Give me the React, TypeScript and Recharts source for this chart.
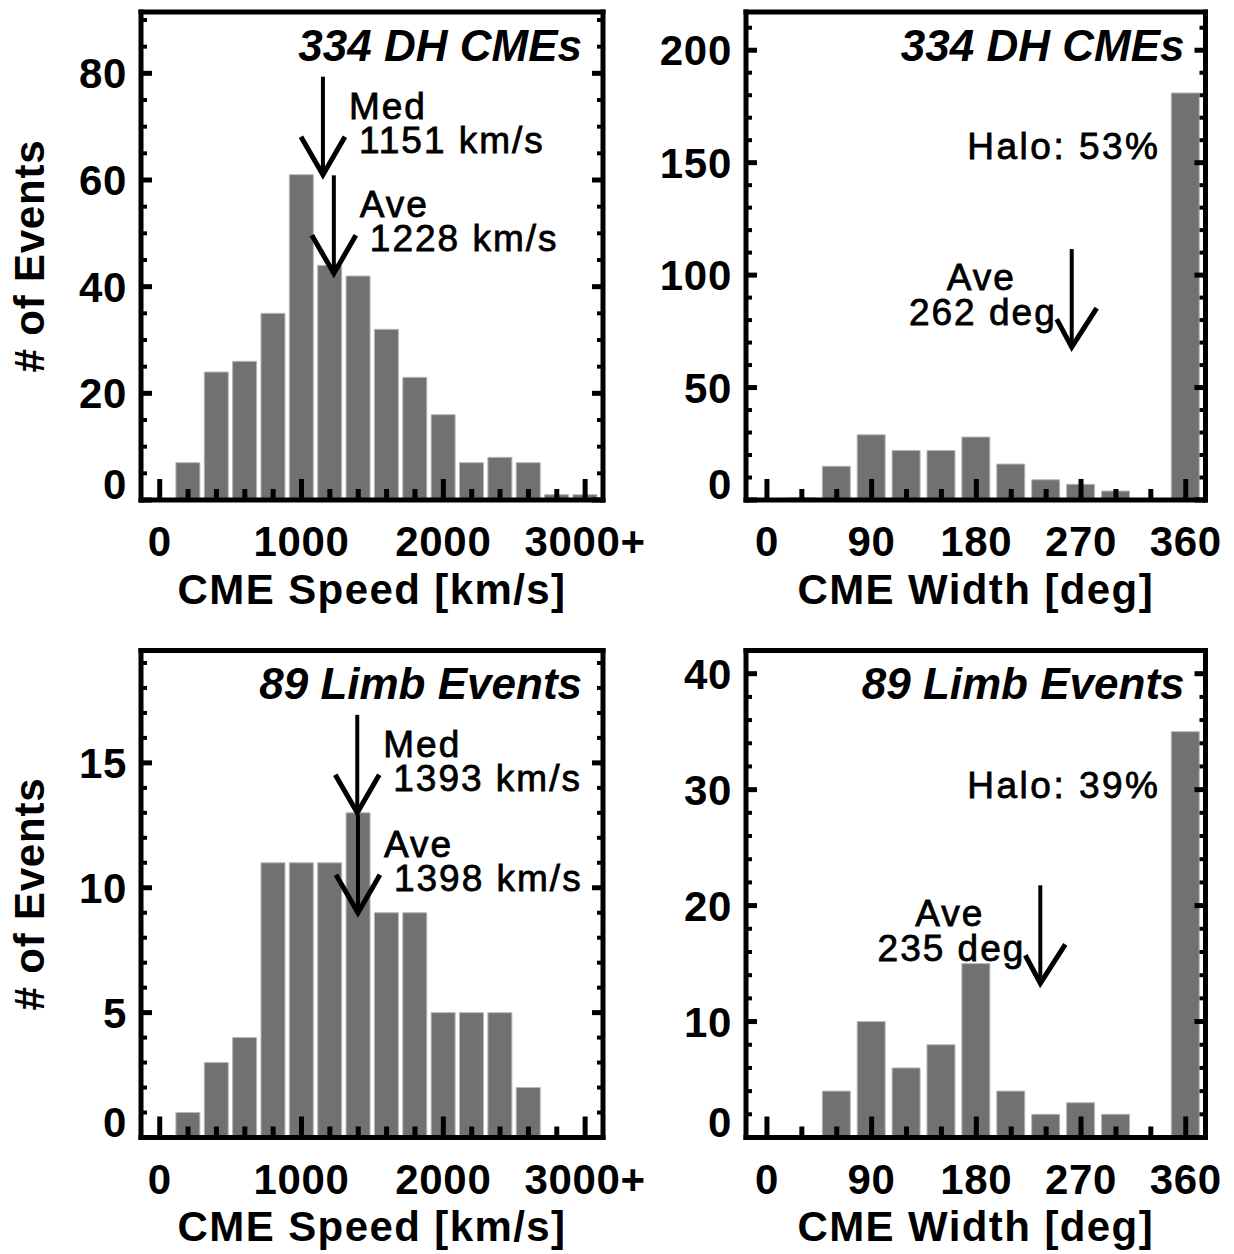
import React from 'react';
import { ComposedChart, Bar, XAxis, YAxis, ReferenceDot } from 'recharts';

// ---------- data ----------
const speedBins = [200, 400, 600, 800, 1000, 1200, 1400, 1600, 1800, 2000, 2200, 2400, 2600, 2800, 3000];
const dhSpeedCounts = [7, 24, 26, 35, 61, 44, 42, 32, 23, 16, 7, 8, 7, 1, 1];
const limbSpeedCounts = [1, 3, 4, 11, 11, 11, 13, 9, 9, 5, 5, 5, 2, 0, 0];

const widthBins = [30, 60, 90, 120, 150, 180, 210, 240, 270, 300, 330, 360];
const dhWidthCounts = [1, 15, 29, 22, 22, 28, 16, 9, 7, 4, 0, 181];
const limbWidthCounts = [0, 4, 10, 6, 8, 15, 4, 2, 3, 2, 0, 35];

const speedTicks = [0, 200, 400, 600, 800, 1000, 1200, 1400, 1600, 1800, 2000, 2200, 2400, 2600, 2800, 3000];
const speedMajorTicks = [0, 1000, 2000, 3000];
const speedTickLabels = ['0', '1000', '2000', '3000+'];
const widthTicks = [0, 30, 60, 90, 120, 150, 180, 210, 240, 270, 300, 330, 360];
const widthMajorTicks = [0, 90, 180, 270, 360];
const widthTickLabels = ['0', '90', '180', '270', '360'];

const dhCountTicks = [0, 5, 10, 15, 20, 25, 30, 35, 40, 45, 50, 55, 60, 65, 70, 75, 80, 85, 90];
const dhCountMajor = [0, 20, 40, 60, 80];
const dhWidthCountTicks = [0, 10, 20, 30, 40, 50, 60, 70, 80, 90, 100, 110, 120, 130, 140, 150, 160, 170, 180, 190, 200, 210];
const dhWidthCountMajor = [0, 50, 100, 150, 200];
const limbCountTicks = [0, 1, 2, 3, 4, 5, 6, 7, 8, 9, 10, 11, 12, 13, 14, 15, 16, 17, 18, 19];
const limbCountMajor = [0, 5, 10, 15];
const limbWidthCountTicks = [0, 2, 4, 6, 8, 10, 12, 14, 16, 18, 20, 22, 24, 26, 28, 30, 32, 34, 36, 38, 40, 42];
const limbWidthCountMajor = [0, 10, 20, 30, 40];

const dhTitle = '334 DH CMEs';
const limbTitle = '89 Limb Events';
const dhHalo = 'Halo: 53%';
const limbHalo = 'Halo: 39%';

const dhSpeedArrows = [
  { name: 'Med', text: '1151 km/s', x: 1151, tip: 61 },
  { name: 'Ave', text: '1228 km/s', x: 1228, tip: 42.5 },
];
const limbSpeedArrows = [
  { name: 'Med', text: '1393 km/s', x: 1393, tip: 13 },
  { name: 'Ave', text: '1398 km/s', x: 1398, tip: 9 },
];
const dhWidthArrows = [{ name: 'Ave', text: '262 deg', x: 262, tip: 68 }];
const limbWidthArrows = [{ name: 'Ave', text: '235 deg', x: 235, tip: 13.3 }];

const speedTitle = 'CME Speed [km/s]';
const widthTitle = 'CME Width [deg]';
const yTitle = '# of Events';

// ---------- styles ----------
const FONT = '"Liberation Sans", Arial, Helvetica, sans-serif';
const BAR_FILL = '#717171';
const BAR_EDGE = '#b8b8b8';
const LABEL_SIZE = 42;
const frameLine = { stroke: '#000', strokeWidth: 5, strokeLinecap: 'square' as const };

type ArrowSpec = { name: string; text: string; x: number; tip: number };

function makeXTick(majors: number[], labels: string[]) {
  return (props: any) => {
    const { x, y, payload } = props;
    const idx = majors.indexOf(payload.value);
    const major = idx >= 0;
    return (
      <g>
        <line x1={x} x2={x} y1={y} y2={y - (major ? 21 : 11)} stroke="#000" strokeWidth={5} />
        {major && (
          <text x={x} y={y + 56} textAnchor="middle" fontFamily={FONT} fontWeight="bold" fontSize={LABEL_SIZE} letterSpacing={0.7} fill="#000">
            {labels[idx]}
          </text>
        )}
      </g>
    );
  };
}

function makeYTick(majors: number[], side: 'left' | 'right') {
  return (props: any) => {
    const { x, y, payload } = props;
    const major = majors.indexOf(payload.value) >= 0;
    const len = major ? 11 : 6;
    const dir = side === 'left' ? 1 : -1;
    return (
      <g>
        <line x1={x} x2={x + dir * len} y1={y} y2={y} stroke="#000" strokeWidth={major ? 5 : 4} />
        {side === 'left' && major && (
          <text
            x={x - 14}
            y={payload.value === 0 ? y - 1 : y + 15}
            textAnchor="end"
            fontFamily={FONT}
            fontWeight="bold"
            fontSize={LABEL_SIZE}
            letterSpacing={0.7}
            fill="#000"
          >
            {payload.value}
          </text>
        )}
      </g>
    );
  };
}

const annText = { fontFamily: FONT, fontSize: 37, fill: '#000', letterSpacing: 2, stroke: '#000', strokeWidth: 0.8 } as any;

function makeArrow(a: ArrowSpec, textSide: 'right' | 'left') {
  return (props: any) => {
    const { cx, cy } = props;
    const head =
      textSide === 'right'
        ? `${cx - 22},${cy - 38} ${cx},${cy} ${cx + 22},${cy - 38}`
        : `${cx - 15},${cy - 28} ${cx},${cy} ${cx + 25},${cy - 39}`;
    return (
      <g>
        <line x1={cx} x2={cx} y1={cy} y2={cy - 98} stroke="#000" strokeWidth={4} />
        <polyline points={head} fill="none" stroke="#000" strokeWidth={5} strokeLinejoin="miter" />
        {textSide === 'right' ? (
          <>
            <text x={cx + 26} y={cy - 56} textAnchor="start" {...annText}>{a.name}</text>
            <text x={cx + 36} y={cy - 22} textAnchor="start" {...annText}>{a.text}</text>
          </>
        ) : (
          <>
            <text x={cx - 56} y={cy - 57} textAnchor="end" {...annText}>{a.name}</text>
            <text x={cx - 15} y={cy - 22} textAnchor="end" {...annText}>{a.text}</text>
          </>
        )}
      </g>
    );
  };
}

function makeCorner(title: string, halo?: string) {
  return (props: any) => {
    const { cx, cy } = props;
    return (
      <g>
        <text x={cx - 21} y={cy + 48.5} textAnchor="end" fontFamily={FONT} fontWeight="bold" fontStyle="italic" fontSize={44} fill="#000">
          {title}
        </text>
        {halo && (
          <text x={cx - 45} y={cy + 147} textAnchor="end" {...annText} letterSpacing={2.5}>
            {halo}
          </text>
        )}
      </g>
    );
  };
}

type PanelProps = {
  left: number;
  top: number;
  width: number;
  height: number;
  margin: { top: number; right: number; bottom: number; left: number };
  bins: number[];
  counts: number[];
  xDomain: [number, number];
  yDomain: [number, number];
  xTicks: number[];
  xMajor: number[];
  xLabels: string[];
  yTicks: number[];
  yMajor: number[];
  barSize: number;
  arrows: ArrowSpec[];
  textSide: 'right' | 'left';
  title: string;
  halo?: string;
  xTitle: string;
  showYTitle: boolean;
};

function Panel(p: PanelProps) {
  const data = p.bins.map((b, i) => ({ bin: b, count: p.counts[i] }));
  // axes take 1px each; margins shrink accordingly so the plot frame keeps its place
  const m = { top: p.margin.top - 1, right: p.margin.right - 1, bottom: p.margin.bottom - 1, left: p.margin.left - 1 };
  return (
    <div style={{ position: 'absolute', left: p.left, top: p.top }}>
      <ComposedChart width={p.width} height={p.height} data={data} margin={m}>
        <Bar
          dataKey="count"
          xAxisId="x"
          yAxisId="y"
          fill={BAR_FILL}
          stroke={BAR_EDGE}
          strokeWidth={1}
          barSize={p.barSize}
          isAnimationActive={false}
        />
        <XAxis
          xAxisId="x"
          dataKey="bin"
          type="number"
          domain={p.xDomain}
          allowDataOverflow
          ticks={p.xTicks}
          interval={0}
          height={1}
          tickSize={0}
          tickMargin={0}
          tickLine={false}
          axisLine={frameLine}
          tick={makeXTick(p.xMajor, p.xLabels)}
          label={(lp: any) => {
            const vb = lp.viewBox || {};
            return (
              <text
                x={vb.x + vb.width / 2}
                y={vb.y + 103.5}
                textAnchor="middle"
                fontFamily={FONT}
                fontWeight="bold"
                fontSize={LABEL_SIZE}
                letterSpacing={1.4}
                fill="#000"
              >
                {p.xTitle}
              </text>
            );
          }}
        />
        <XAxis
          xAxisId="top"
          orientation="top"
          type="number"
          domain={p.xDomain}
          allowDataOverflow
          ticks={p.xTicks}
          height={1}
          tick={false}
          tickLine={false}
          axisLine={frameLine}
        />
        <YAxis
          yAxisId="y"
          type="number"
          domain={p.yDomain}
          allowDataOverflow
          ticks={p.yTicks}
          interval={0}
          width={1}
          tickSize={0}
          tickMargin={0}
          tickLine={false}
          axisLine={frameLine}
          tick={makeYTick(p.yMajor, 'left')}
          label={
            p.showYTitle
              ? (lp: any) => {
                  const vb = lp.viewBox || {};
                  const tx = vb.x + vb.width - 97;
                  const ty = vb.y + vb.height / 2;
                  return (
                    <text
                      x={tx}
                      y={ty}
                      transform={`rotate(-90 ${tx} ${ty})`}
                      textAnchor="middle"
                      fontFamily={FONT}
                      fontWeight="bold"
                      fontSize={LABEL_SIZE}
                      letterSpacing={0.8}
                      fill="#000"
                    >
                      {yTitle}
                    </text>
                  );
                }
              : undefined
          }
        />
        <YAxis
          yAxisId="r"
          orientation="right"
          type="number"
          domain={p.yDomain}
          allowDataOverflow
          ticks={p.yTicks}
          interval={0}
          width={1}
          tickSize={0}
          tickMargin={0}
          tickLine={false}
          axisLine={frameLine}
          tick={makeYTick(p.yMajor, 'right')}
        />
        {p.arrows.map((a, i) => (
          <ReferenceDot
            key={i}
            xAxisId="x"
            yAxisId="y"
            x={a.x}
            y={a.tip}
            ifOverflow="visible"
            shape={makeArrow(a, p.textSide)}
          />
        ))}
        <ReferenceDot
          xAxisId="x"
          yAxisId="y"
          x={p.xDomain[1]}
          y={p.yDomain[1]}
          ifOverflow="visible"
          shape={makeCorner(p.title, p.halo)}
        />
      </ComposedChart>
    </div>
  );
}

export default function App() {
  return (
    <div style={{ position: 'absolute', left: 0, top: 0, width: 1234, height: 1254, background: '#fff' }}>
      <Panel
        left={0}
        top={0}
        width={665}
        height={625}
        margin={{ top: 12, right: 62, bottom: 125, left: 141 }}
        bins={speedBins}
        counts={dhSpeedCounts}
        xDomain={[-132, 3126]}
        yDomain={[0, 91.5]}
        xTicks={speedTicks}
        xMajor={speedMajorTicks}
        xLabels={speedTickLabels}
        yTicks={dhCountTicks}
        yMajor={dhCountMajor}
        barSize={24}
        arrows={dhSpeedArrows}
        textSide="right"
        title={dhTitle}
        xTitle={speedTitle}
        showYTitle
      />
      <Panel
        left={620}
        top={0}
        width={614}
        height={625}
        margin={{ top: 12, right: 28.5, bottom: 125, left: 126 }}
        bins={widthBins}
        counts={dhWidthCounts}
        xDomain={[-18, 377]}
        yDomain={[0, 217]}
        xTicks={widthTicks}
        xMajor={widthMajorTicks}
        xLabels={widthTickLabels}
        yTicks={dhWidthCountTicks}
        yMajor={dhWidthCountMajor}
        barSize={28}
        arrows={dhWidthArrows}
        textSide="left"
        title={dhTitle}
        halo={dhHalo}
        xTitle={widthTitle}
        showYTitle={false}
      />
      <Panel
        left={0}
        top={625}
        width={665}
        height={629}
        margin={{ top: 25.5, right: 62, bottom: 116.5, left: 141 }}
        bins={speedBins}
        counts={limbSpeedCounts}
        xDomain={[-132, 3126]}
        yDomain={[0, 19.5]}
        xTicks={speedTicks}
        xMajor={speedMajorTicks}
        xLabels={speedTickLabels}
        yTicks={limbCountTicks}
        yMajor={limbCountMajor}
        barSize={24}
        arrows={limbSpeedArrows}
        textSide="right"
        title={limbTitle}
        xTitle={speedTitle}
        showYTitle
      />
      <Panel
        left={620}
        top={625}
        width={614}
        height={629}
        margin={{ top: 25.5, right: 28.5, bottom: 116.5, left: 126 }}
        bins={widthBins}
        counts={limbWidthCounts}
        xDomain={[-18, 377]}
        yDomain={[0, 42]}
        xTicks={widthTicks}
        xMajor={widthMajorTicks}
        xLabels={widthTickLabels}
        yTicks={limbWidthCountTicks}
        yMajor={limbWidthCountMajor}
        barSize={28}
        arrows={limbWidthArrows}
        textSide="left"
        title={limbTitle}
        halo={limbHalo}
        xTitle={widthTitle}
        showYTitle={false}
      />
    </div>
  );
}
